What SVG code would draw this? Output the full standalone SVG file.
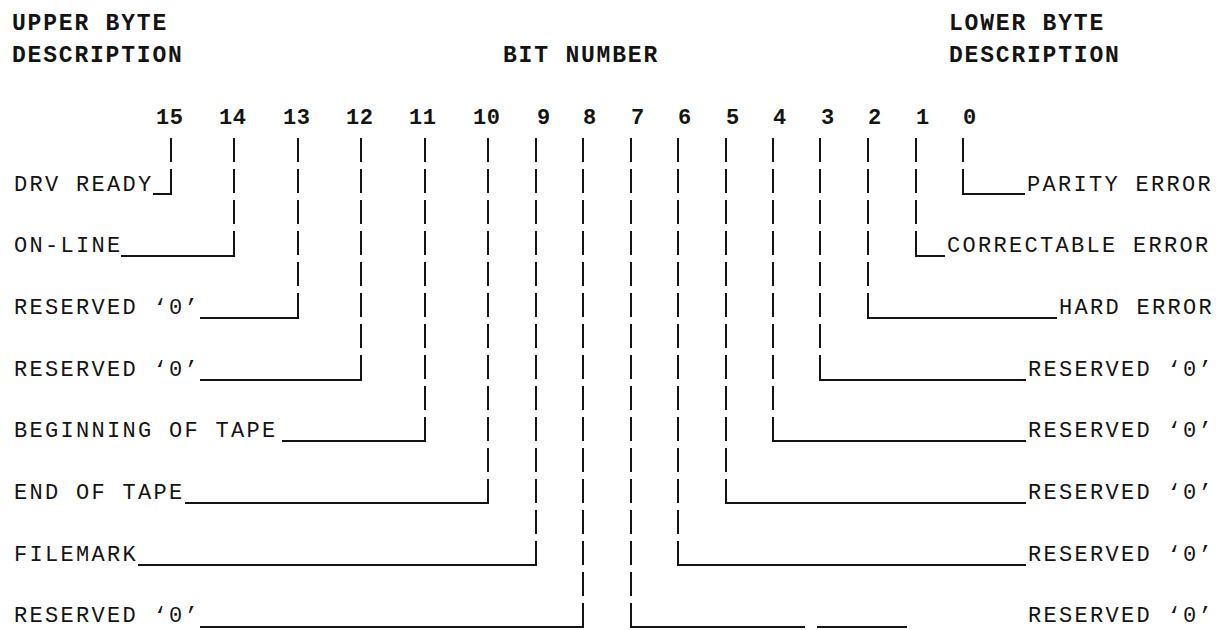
<svg xmlns="http://www.w3.org/2000/svg" width="1226" height="630" viewBox="0 0 1226 630">
<style>
text{font-family:"Liberation Mono","DejaVu Sans Mono",monospace;fill:#141414}
.h{font-size:23px;font-weight:bold;letter-spacing:1.8px}
.n{font-size:22px;font-weight:bold;letter-spacing:0.6px}
.l{font-size:22px;letter-spacing:2.3px}
.v{fill:none;stroke:#141414;stroke-width:2;stroke-dasharray:24 7}
.hz{fill:none;stroke:#141414;stroke-width:2}
</style>
<rect width="1226" height="630" fill="#fff"/>
<g id="headings">
<text class="h" x="12" y="30">UPPER  BYTE</text>
<text class="h" x="12" y="62">DESCRIPTION</text>
<text class="h" x="503" y="62">BIT NUMBER</text>
<text class="h" x="949" y="30">LOWER  BYTE</text>
<text class="h" x="949" y="62">DESCRIPTION</text>
</g>
<g id="bit-numbers">
<text class="n" x="156" y="124">15</text>
<text class="n" x="219" y="124">14</text>
<text class="n" x="283" y="124">13</text>
<text class="n" x="346" y="124">12</text>
<text class="n" x="409" y="124">11</text>
<text class="n" x="473" y="124">10</text>
<text class="n" x="537" y="124">9</text>
<text class="n" x="583" y="124">8</text>
<text class="n" x="631" y="124">7</text>
<text class="n" x="678" y="124">6</text>
<text class="n" x="726" y="124">5</text>
<text class="n" x="773" y="124">4</text>
<text class="n" x="821" y="124">3</text>
<text class="n" x="868" y="124">2</text>
<text class="n" x="916" y="124">1</text>
<text class="n" x="963" y="124">0</text>
</g>
<g id="bit15"><text class="l" x="14" y="191">DRV READY</text></g>
<g id="bit14"><text class="l" x="14" y="252">ON-LINE</text></g>
<g id="bit13"><text class="l" x="14" y="314">RESERVED ‘0’</text></g>
<g id="bit12"><text class="l" x="14" y="376">RESERVED ‘0’</text></g>
<g id="bit11"><text class="l" x="14" y="437">BEGINNING OF TAPE</text></g>
<g id="bit10"><text class="l" x="14" y="499">END OF TAPE</text></g>
<g id="bit9"><text class="l" x="14" y="561">FILEMARK</text></g>
<g id="bit8"><text class="l" x="14" y="622">RESERVED ‘0’</text></g>
<g id="bit0"><text class="l" x="1027" y="191">PARITY ERROR</text></g>
<g id="bit1"><text class="l" x="947" y="252">CORRECTABLE ERROR</text></g>
<g id="bit2"><text class="l" x="1059" y="314">HARD ERROR</text></g>
<g id="bit3"><text class="l" x="1028" y="376">RESERVED ‘0’</text></g>
<g id="bit4"><text class="l" x="1028" y="437">RESERVED ‘0’</text></g>
<g id="bit5"><text class="l" x="1028" y="499">RESERVED ‘0’</text></g>
<g id="bit6"><text class="l" x="1028" y="561">RESERVED ‘0’</text></g>
<g id="bit7"><text class="l" x="1028" y="622">RESERVED ‘0’</text></g>
<g id="connectors">
<path class="v" d="M171 138V194"/><path class="hz" d="M153 194H172"/>
<path class="v" d="M234 138V256"/><path class="hz" d="M121 256H235"/>
<path class="v" d="M298 138V318"/><path class="hz" d="M200 318H299"/>
<path class="v" d="M361 138V380"/><path class="hz" d="M200 380H362"/>
<path class="v" d="M425 138V441"/><path class="hz" d="M282 441H426"/>
<path class="v" d="M488 138V503"/><path class="hz" d="M185 503H489"/>
<path class="v" d="M536 138V565"/><path class="hz" d="M138 565H537"/>
<path class="v" d="M583 138V627"/><path class="hz" d="M200 627H584"/>
<path class="v" d="M963 138V194"/><path class="hz" d="M962 194H1025"/>
<path class="v" d="M916 138V256"/><path class="hz" d="M915 256H945"/>
<path class="v" d="M868 138V318"/><path class="hz" d="M867 318H1057"/>
<path class="v" d="M820 138V380"/><path class="hz" d="M819 380H1026"/>
<path class="v" d="M773 138V441"/><path class="hz" d="M772 441H1026"/>
<path class="v" d="M726 138V503"/><path class="hz" d="M725 503H1026"/>
<path class="v" d="M678 138V565"/><path class="hz" d="M677 565H1026"/>
<path class="v" d="M631 138V627"/><path class="hz" d="M630 627H912" stroke-dasharray="175 12 90"/>
</g>
</svg>
